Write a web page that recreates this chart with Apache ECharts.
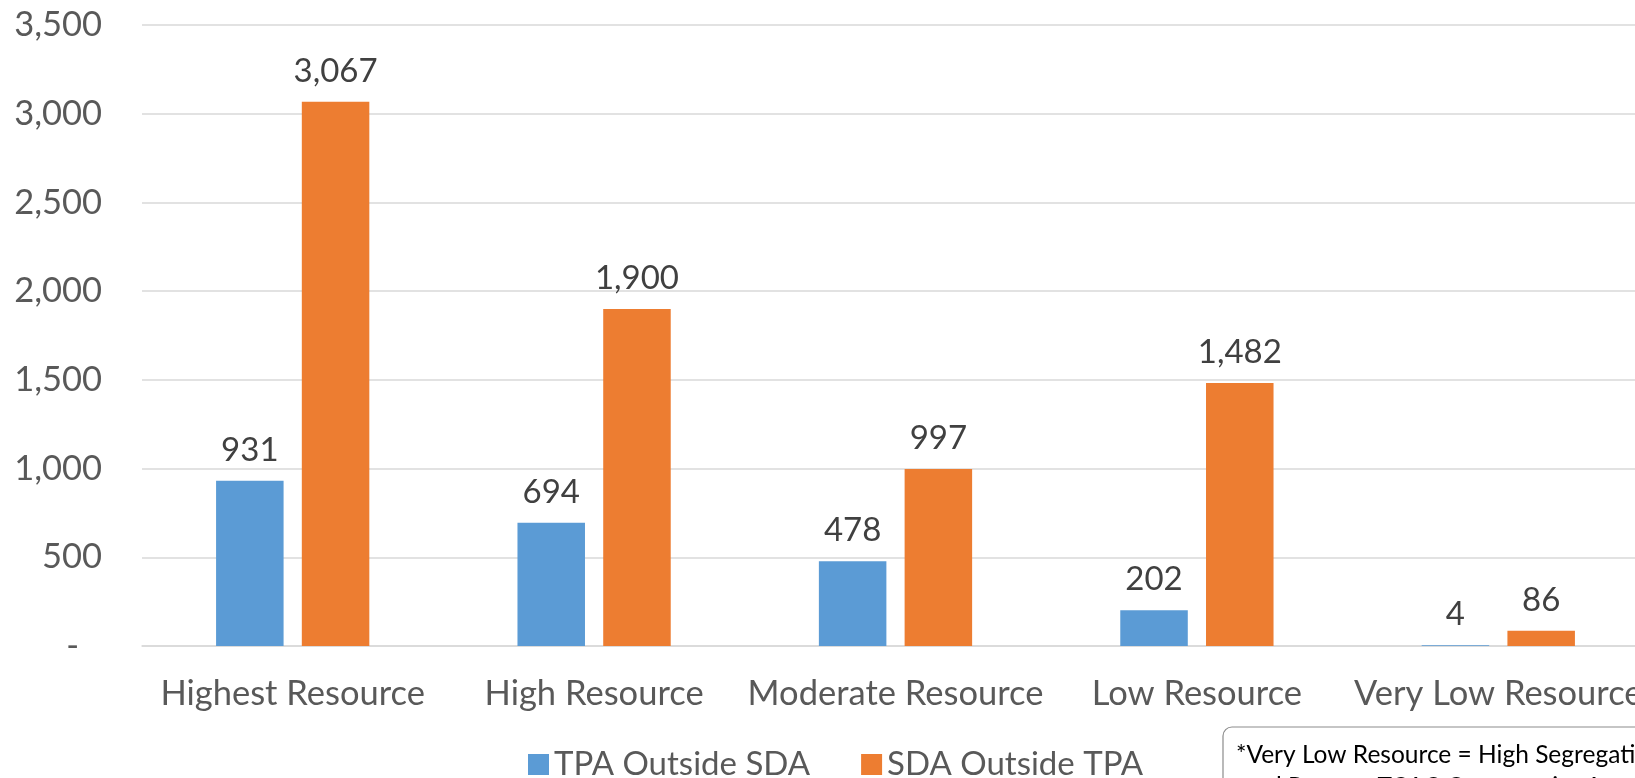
<!DOCTYPE html>
<html>
<head>
<meta charset="utf-8">
<script src="https://cdn.jsdelivr.net/npm/echarts@6/dist/echarts.min.js"></script>
<style>
  html, body { margin: 0; padding: 0; background: #fff; }
  #chart-container { width: 1635px; height: 778px; }
</style>
</head>
<body>
<div id="chart-container"></div>
<script>
var categories = ['Highest Resource', 'High Resource', 'Moderate Resource', 'Low Resource', 'Very Low Resource'];
var tpaOutsideSda = [931, 694, 478, 202, 4];
var sdaOutsideTpa = [3067, 1900, 997, 1482, 86];
var seriesNames = ['TPA Outside SDA', 'SDA Outside TPA'];
var noteLines = ['*Very Low Resource = High Segregation', ' and Poverty TCAC Opportunity Area'];

var dom = document.getElementById('chart-container');
var myChart = echarts.init(dom, null, { renderer: 'canvas' });

var font = 'Lato';

function fmt(v) {
    return v.toLocaleString('en-US');
}

var option = {
    animation: false,
    textStyle: { fontFamily: font },
    color: ['#5B9BD5', '#ED7D31'],
    grid: {
        left: 142,
        width: 1507,
        top: 25,
        bottom: 132,
        outerBoundsMode: 'none'
    },
    legend: {
        data: seriesNames,
        left: 528,
        top: 748,
        padding: 0,
        icon: 'rect',
        itemWidth: 21,
        itemHeight: 21,
        itemGap: 51,
        textStyle: { fontSize: 33, color: '#595959', fontFamily: font }
    },
    xAxis: {
        type: 'category',
        data: categories,
        axisTick: { show: false },
        axisLine: { lineStyle: { color: '#d9d9d9', width: 1.5 } },
        axisLabel: {
            interval: 0,
            margin: 30,
            fontSize: 34.5,
            color: '#595959',
            fontFamily: font
        }
    },
    yAxis: {
        type: 'value',
        min: 0,
        max: 3500,
        interval: 500,
        axisLine: { show: false },
        axisTick: { show: false },
        splitLine: { lineStyle: { color: '#d9d9d9', width: 1.5 } },
        axisLabel: {
            margin: 40,
            fontSize: 34.5,
            color: '#595959',
            fontFamily: font,
            formatter: function (v) {
                return v === 0 ? '{d|-}' : fmt(v);
            },
            rich: {
                d: { fontSize: 34.5, color: '#595959', fontFamily: font, padding: [0, 23, 0, 0] }
            }
        }
    },
    series: [
        {
            name: seriesNames[0],
            type: 'bar',
            data: tpaOutsideSda,
            barWidth: '22.4%',
            barGap: '27%',
            label: {
                show: true,
                position: 'top',
                distance: 14,
                fontSize: 33,
                color: '#404040',
                fontFamily: font,
                formatter: function (p) { return fmt(p.value); }
            }
        },
        {
            name: seriesNames[1],
            type: 'bar',
            data: sdaOutsideTpa,
            barWidth: '22.4%',
            barGap: '27%',
            label: {
                show: true,
                position: 'top',
                distance: 14,
                fontSize: 33,
                color: '#404040',
                fontFamily: font,
                formatter: function (p) { return fmt(p.value); }
            }
        }
    ],
    graphic: [
        {
            type: 'rect',
            shape: { x: 1223, y: 727, width: 520, height: 120, r: 9 },
            style: { fill: '#fff', stroke: '#8c8c8c', lineWidth: 1.2 }
        },
        {
            type: 'text',
            x: 1236,
            y: 739,
            style: {
                text: noteLines.join('\n'),
                fontSize: 24.5,
                lineHeight: 32,
                fill: '#000',
                fontFamily: font
            }
        }
    ]
};

myChart.setOption(option);
window.addEventListener('resize', myChart.resize);
</script>
</body>
</html>
